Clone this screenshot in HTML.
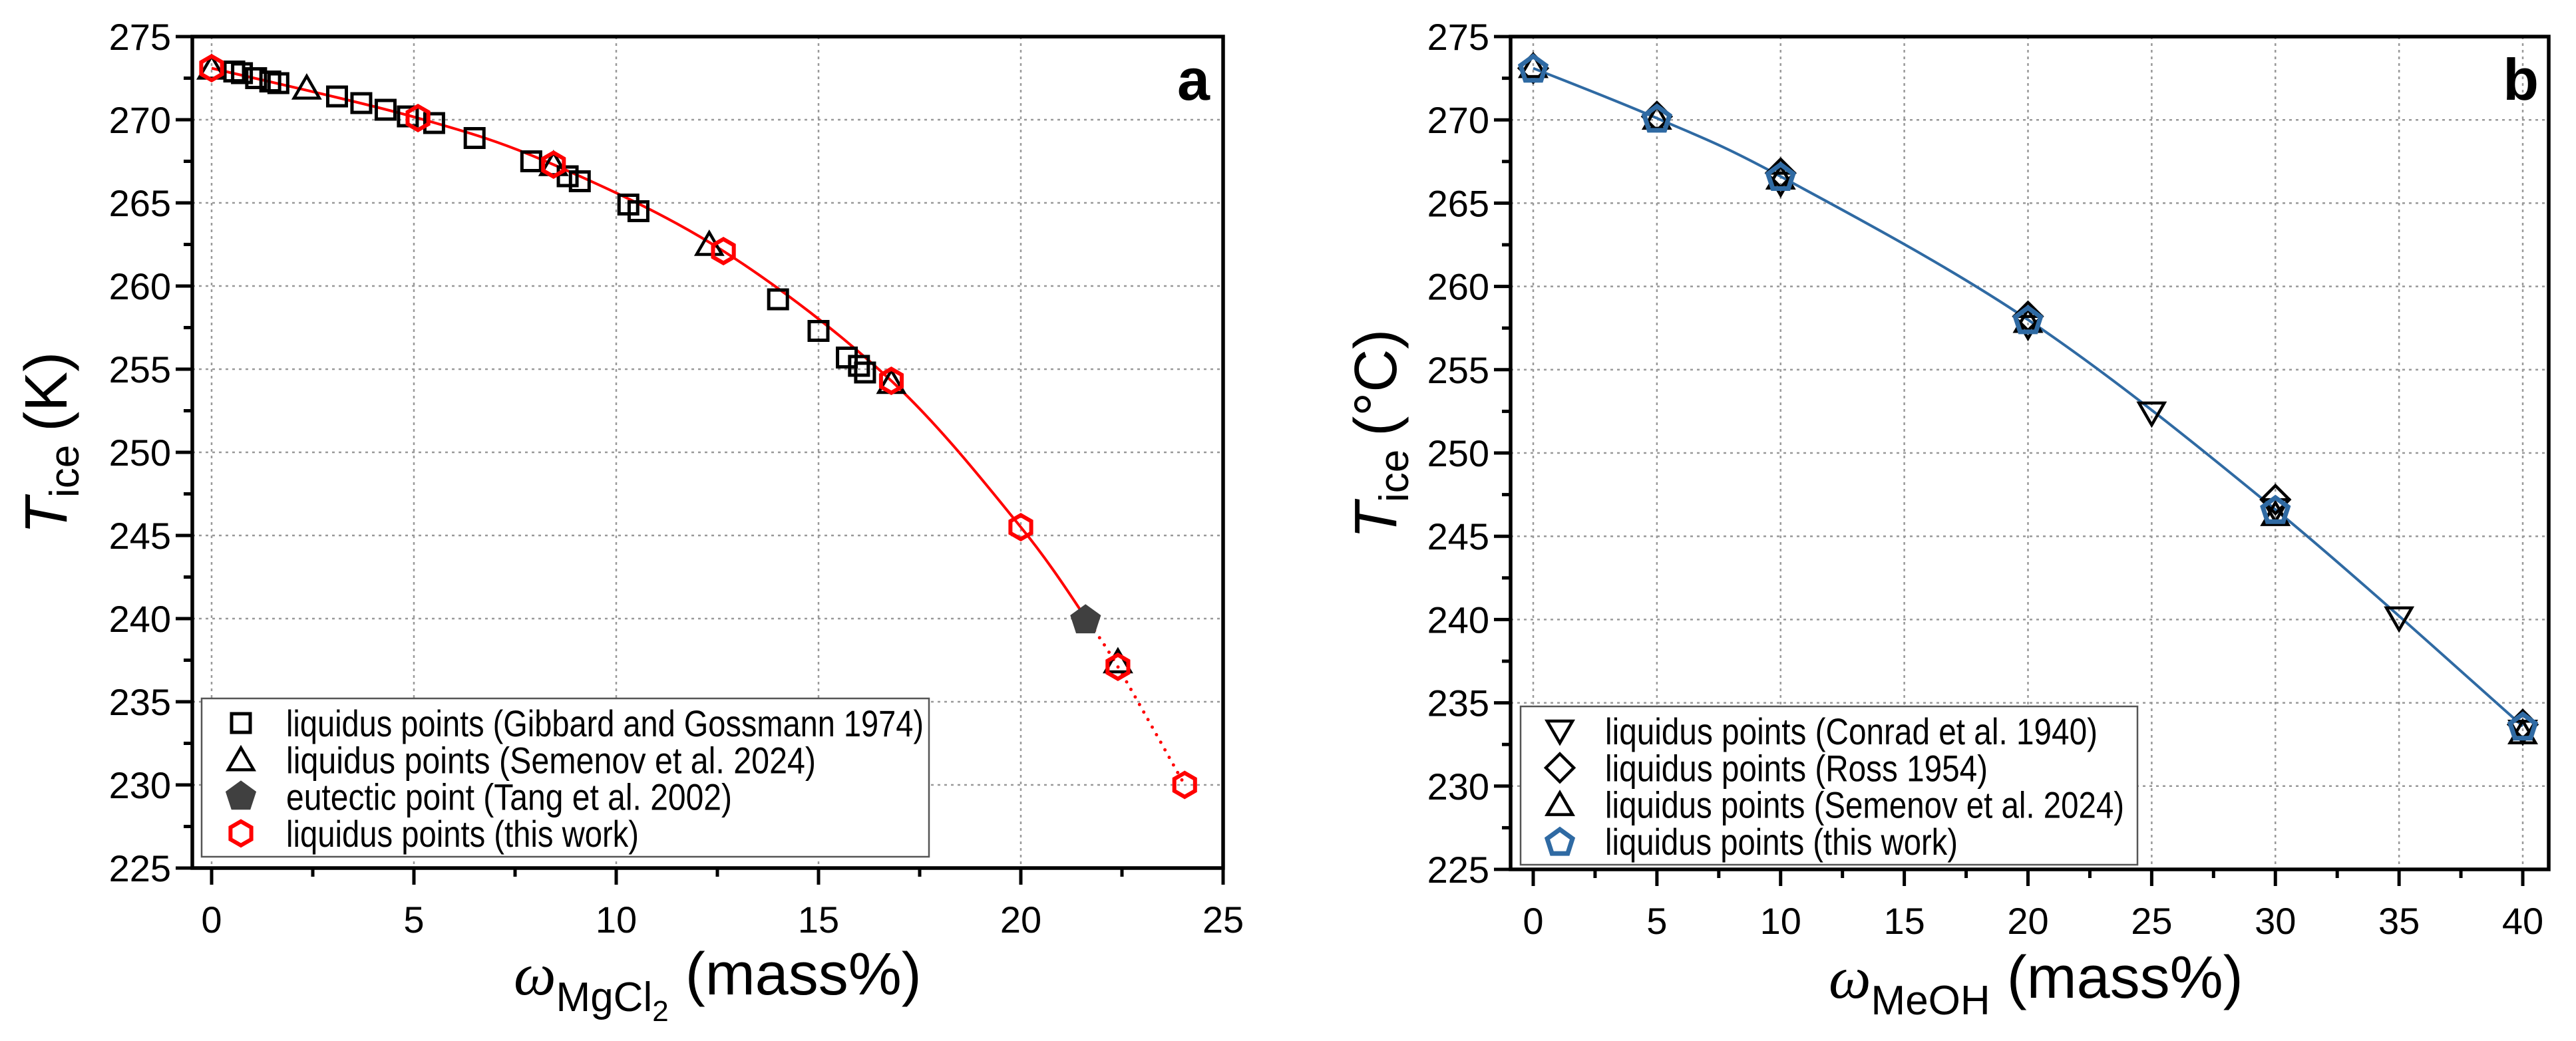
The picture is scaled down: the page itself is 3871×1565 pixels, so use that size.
<!DOCTYPE html>
<html><head><meta charset="utf-8"><style>
html,body{margin:0;padding:0;background:#fff;}
svg{display:block;font-family:"Liberation Sans",Arial,sans-serif;}
</style></head><body>
<svg id="fig" width="3871" height="1565" viewBox="0 0 3871 1565" xmlns="http://www.w3.org/2000/svg">
<g id="pa"></g>
<g id="pb"></g>
</svg>
<script>
// ---- Panel a data (MgCl2) ----
const aGibbX = [0.56,0.75,1.1,1.45,1.65,3.1,3.7,4.3,4.85,5.5,6.5,7.9,8.8,9.1,10.3,10.55,14.0,15.0,15.7,16.0,16.15];
const aGibbY = [272.9,272.8,272.5,272.3,272.2,271.4,271.0,270.6,270.2,269.8,268.9,267.5,266.6,266.3,264.9,264.5,259.2,257.3,255.7,255.2,254.8];
const aSemX = [0,2.35,8.45,12.3,16.8,22.4];
const aSemY = [273.1,271.9,267.3,262.5,254.2,237.4];
const aEutX = [21.6];
const aEutY = [239.9];
const aWorkX = [0,5.1,8.45,12.65,16.8,20.0,22.4,24.05];
const aWorkY = [273.1,270.1,267.3,262.1,254.3,245.5,237.1,230.0];
const aFitX = [0,5.1,8.45,12.65,16.8,20.0,21.7];
const aFitY = [273.1,270.1,267.3,262.1,254.3,245.5,239.7];
const aDotX = [21.7,22.4,24.05];
const aDotY = [239.7,237.1,230.0];
const aXTicks = [0,5,10,15,20,25];
const aYTicks = [225,230,235,240,245,250,255,260,265,270,275];
// ---- Panel b data (MeOH) ----
const bConX = [10,20,25,30,35,40];
const bConY = [266.2,257.6,252.4,246.6,240.1,233.3];
const bRossX = [0,5,10,20,30,40];
const bRossY = [273.1,270.2,266.8,258.2,247.2,233.7];
const bSemX = [0,5,10,20,30,40];
const bSemY = [273.2,270.1,266.5,257.9,246.3,233.2];
const bWorkX = [0,5,10,20,30,40];
const bWorkY = [273.1,270.1,266.6,258.0,246.6,233.6];
const bXTicks = [0,5,10,15,20,25,30,35,40];
const bYTicks = [225,230,235,240,245,250,255,260,265,270,275];

const NS='http://www.w3.org/2000/svg';
function mk(parent,tag,attrs,text){const e=document.createElementNS(NS,tag);for(const k in attrs)e.setAttribute(k,attrs[k]);if(text!==undefined)e.textContent=text;parent.appendChild(e);return e;}
function poly(cx,cy,r,n,rot){let p=[];for(let i=0;i<n;i++){const a=rot+i*2*Math.PI/n;p.push((cx+r*Math.cos(a)).toFixed(1)+','+(cy+r*Math.sin(a)).toFixed(1));}return p.join(' ');}
function marker(g,type,cx,cy,name){
  let e;
  if(type==='sq'){e=mk(g,'rect',{x:cx-14,y:cy-14,width:28,height:28,fill:'none',stroke:'#000','stroke-width':5});}
  else if(type==='tri'){e=mk(g,'polygon',{points:poly(cx,cy+4,22,3,-Math.PI/2),fill:'none',stroke:'#000','stroke-width':4.5});}
  else if(type==='dtri'){e=mk(g,'polygon',{points:poly(cx,cy-4,22,3,Math.PI/2),fill:'none',stroke:'#000','stroke-width':4.5});}
  else if(type==='dia'){e=mk(g,'polygon',{points:poly(cx,cy,21,4,-Math.PI/2),fill:'none',stroke:'#000','stroke-width':4.5});}
  else if(type==='eut'){e=mk(g,'polygon',{points:poly(cx,cy,23,5,-Math.PI/2),fill:'#404040',stroke:'#404040','stroke-width':2});}
  else if(type==='hex'){e=mk(g,'polygon',{points:poly(cx,cy,18,6,-Math.PI/2),fill:'none',stroke:'#ff0000','stroke-width':6});}
  else if(type==='pent'){e=mk(g,'polygon',{points:poly(cx,cy+2,20,5,-Math.PI/2),fill:'none',stroke:'#2f6aa3','stroke-width':7});}
  
  
  return e;
}
function curvePath(xs,ys,sx,sy){
  const P=xs.map((x,i)=>[sx(x),sy(ys[i])]);
  let d='M'+P[0][0]+','+P[0][1];
  for(let i=0;i<P.length-1;i++){
    const p0=P[Math.max(0,i-1)],p1=P[i],p2=P[i+1],p3=P[Math.min(P.length-1,i+2)];
    const c1=[p1[0]+(p2[0]-p0[0])/6,p1[1]+(p2[1]-p0[1])/6];
    const c2=[p2[0]-(p3[0]-p1[0])/6,p2[1]-(p3[1]-p1[1])/6];
    d+=' C'+c1[0].toFixed(1)+','+c1[1].toFixed(1)+' '+c2[0].toFixed(1)+','+c2[1].toFixed(1)+' '+p2[0].toFixed(1)+','+p2[1].toFixed(1);
  }
  return d;
}
function axes(g,o){
  const {L,R,T,B,sx,sy,xTicks,yTicks}=o;
  // grid
  xTicks.forEach(v=>{const x=sx(v);if(x>L+5&&x<R-5){const l=mk(g,'line',{x1:x,y1:T,x2:x,y2:B,stroke:'#999','stroke-width':2.5,'stroke-dasharray':'4,6'});
    
    }});
  yTicks.forEach(v=>{const y=sy(v);if(y>T+5&&y<B-5){const l=mk(g,'line',{x1:L,y1:y,x2:R,y2:y,stroke:'#999','stroke-width':2.5,'stroke-dasharray':'4,6'});
    
    }});
  // ticks
  xTicks.forEach((v,i)=>{const x=sx(v);
    const t=mk(g,'line',{x1:x,y1:B,x2:x,y2:B+25,stroke:'#000','stroke-width':5});
    
    
    const lb=mk(g,'text',{x:x,y:B+97,'font-size':56,'text-anchor':'middle',fill:'#000'},String(v));
    
    
    if(i<xTicks.length-1){const xm=sx((v+xTicks[i+1])/2);
      const m=mk(g,'line',{x1:xm,y1:B,x2:xm,y2:B+13,stroke:'#000','stroke-width':5});
      
      }
  });
  yTicks.forEach((v,i)=>{const y=sy(v);
    const t=mk(g,'line',{x1:L-25,y1:y,x2:L,y2:y,stroke:'#000','stroke-width':5});
    
    
    const lb=mk(g,'text',{x:L-32,y:y+20,'font-size':56,'text-anchor':'end',fill:'#000'},String(v));
    
    
    if(i<yTicks.length-1){const ym=sy((v+yTicks[i+1])/2);
      const m=mk(g,'line',{x1:L-13,y1:ym,x2:L,y2:ym,stroke:'#000','stroke-width':5});
      
      }
  });
  const f=mk(g,'rect',{x:L,y:T,width:R-L,height:B-T,fill:'none',stroke:'#000','stroke-width':5.5});
  
  
}
function legend(g,x,y,w,h,items,textLen){
  const box=mk(g,'rect',{x:x,y:y,width:w,height:h,fill:'#fff',stroke:'#555','stroke-width':2.5});
  
  
  items.forEach((it,i)=>{
    const by=y+57+i*55.3;
    marker(g,it.type,x+59,by-20,'legend-marker');
    const t=mk(g,'text',{x:x+127,y:by,'font-size':56,fill:'#000',textLength:it.len,lengthAdjust:'spacingAndGlyphs'},it.label);
    
    
  });
}
function ytitle(g,x,yStart,unit,name){
  const t=mk(g,'text',{transform:'translate('+x+','+yStart+') rotate(-90)','font-size':90,fill:'#000'});
  
  
  mk(t,'tspan',{'font-style':'italic'},'T');
  mk(t,'tspan',{'font-size':62,dy:18},'ice');
  mk(t,'tspan',{dy:-18,dx:20},unit);
}

// ---- Panel a ----
(function(){
  const g=document.getElementById('pa');
  const L=289,R=1838,T=55,B=1305;
  const sx=v=>318+v*(1838-318)/25, sy=v=>T+(275-v)*(B-T)/50;
  axes(g,{L,R,T,B,sx,sy,xTicks:aXTicks,yTicks:aYTicks});
  const fit=mk(g,'path',{d:curvePath(aFitX,aFitY,sx,sy),fill:'none',stroke:'#ff0000','stroke-width':4});
  
  
  const dot=mk(g,'path',{d:curvePath(aDotX,aDotY,sx,sy),fill:'none',stroke:'#ff0000','stroke-width':5,'stroke-dasharray':'0,13','stroke-linecap':'round'});
  
  
  aGibbX.forEach((x,i)=>marker(g,'sq',sx(x),sy(aGibbY[i]),'gibbard-point'));
  aSemX.forEach((x,i)=>marker(g,'tri',sx(x),sy(aSemY[i]),'semenov-point'));
  aEutX.forEach((x,i)=>marker(g,'eut',sx(x),sy(aEutY[i]),'eutectic-point'));
  aWorkX.forEach((x,i)=>marker(g,'hex',sx(x),sy(aWorkY[i]),'this-work-point'));
  legend(g,303,1050,1093,238,[
    {type:'sq',label:'liquidus points (Gibbard and Gossmann 1974)',len:958},
    {type:'tri',label:'liquidus points  (Semenov et al. 2024)',len:796},
    {type:'eut',label:'eutectic point (Tang et al. 2002)',len:670},
    {type:'hex',label:'liquidus points (this work)',len:530}]);
  ytitle(g,100,803,'(K)','y-axis-title');
  const xt=mk(g,'text',{x:772,y:1495,'font-size':90,fill:'#000'});
  
  
  mk(xt,'tspan',{'font-style':'italic','font-family':'"Liberation Serif",serif'},'ω');
  mk(xt,'tspan',{'font-size':62,dy:25},'MgCl');
  mk(xt,'tspan',{'font-size':44,dy:15},'2');
  mk(xt,'tspan',{dy:-40,dx:25},'(mass%)');
  const lab=mk(g,'text',{x:1818,y:150,'font-size':88,'font-weight':'bold','text-anchor':'end',fill:'#000'},'a');
  
  
})();

// ---- Panel b ----
(function(){
  const g=document.getElementById('pb');
  const L=2270,R=3830,T=55,B=1307;
  const sx=v=>2304+v*(3791-2304)/40, sy=v=>T+(275-v)*(B-T)/50;
  axes(g,{L,R,T,B,sx,sy,xTicks:bXTicks,yTicks:bYTicks});
  const fit=mk(g,'path',{d:curvePath(bWorkX,bWorkY,sx,sy),fill:'none',stroke:'#2f6aa3','stroke-width':4});
  
  
  bConX.forEach((x,i)=>marker(g,'dtri',sx(x),sy(bConY[i]),'conrad-point'));
  bRossX.forEach((x,i)=>marker(g,'dia',sx(x),sy(bRossY[i]),'ross-point'));
  bSemX.forEach((x,i)=>marker(g,'tri',sx(x),sy(bSemY[i]),'semenov-point'));
  bWorkX.forEach((x,i)=>marker(g,'pent',sx(x),sy(bWorkY[i]),'this-work-point'));
  legend(g,2285,1062,927,238,[
    {type:'dtri',label:'liquidus points (Conrad et al. 1940)',len:740},
    {type:'dia',label:'liquidus points (Ross 1954)',len:575},
    {type:'tri',label:'liquidus points (Semenov et al. 2024)',len:780},
    {type:'pent',label:'liquidus points (this work)',len:530}]);
  ytitle(g,2098,810,'(°C)','y-axis-title');
  const xt=mk(g,'text',{x:2748,y:1500,'font-size':90,fill:'#000'});
  
  
  mk(xt,'tspan',{'font-style':'italic','font-family':'"Liberation Serif",serif'},'ω');
  mk(xt,'tspan',{'font-size':62,dy:25},'MeOH');
  mk(xt,'tspan',{dy:-25,dx:25},'(mass%)');
  const lab=mk(g,'text',{x:3815,y:150,'font-size':88,'font-weight':'bold','text-anchor':'end',fill:'#000'},'b');
  
  
})();
</script>
</body></html>
